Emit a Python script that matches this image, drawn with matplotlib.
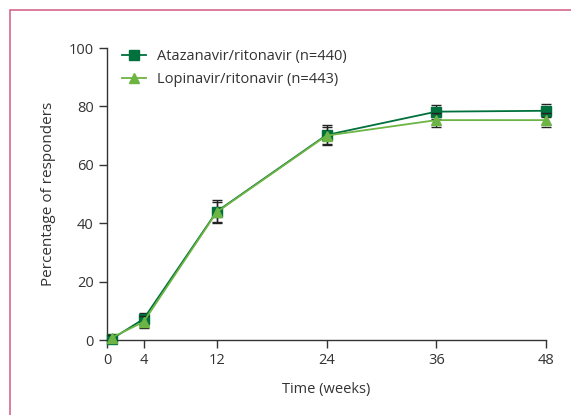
import matplotlib.pyplot as plt
from matplotlib.patches import Rectangle

# Data
weeks = [0.5, 4, 12, 24, 36, 48]
atv = [0.3, 7.2, 44.0, 70.2, 78.2, 78.5]
atv_err = [0.8, 2.2, 3.8, 3.3, 2.4, 2.2]
lpv = [0.8, 6.2, 43.8, 70.0, 75.3, 75.3]
lpv_err = [0.8, 2.0, 3.5, 3.0, 2.3, 2.3]
xticks = [0, 4, 12, 24, 36, 48]
yticks = [0, 20, 40, 60, 80, 100]

dark = '#00703c'
light = '#6cb443'

plt.rcParams['font.family'] = ['Open Sans', 'DejaVu Sans']

fig = plt.figure(figsize=(5.71, 4.15), dpi=100)
ax = fig.add_axes([107 / 571, 1 - 340 / 415, 439 / 571, 292 / 415])

# Pink frame around the panel
fig.patches.append(Rectangle((10 / 571, -0.1), 1.2, 1 - 10 / 415 + 0.1,
                             transform=fig.transFigure, fill=False,
                             edgecolor='#d4678a', linewidth=1.2))

ax.errorbar(weeks, atv, yerr=atv_err, color=dark, marker='s', markersize=7,
            linewidth=1.3, ecolor='#222222', elinewidth=1, capsize=3.5,
            label='Atazanavir/ritonavir (n=440)', zorder=3)
ax.errorbar(weeks, lpv, yerr=lpv_err, color=light, marker='^', markersize=7,
            linewidth=1.3, ecolor='#222222', elinewidth=1, capsize=3.5,
            label='Lopinavir/ritonavir (n=443)', zorder=4)

ax.set_xlim(0, 48)
ax.set_ylim(0, 100)
ax.set_xticks(xticks)
ax.set_yticks(yticks)
ax.spines['top'].set_visible(False)
ax.spines['right'].set_visible(False)
for s in ['left', 'bottom']:
    ax.spines[s].set_color('#333333')
    ax.spines[s].set_linewidth(1)
ax.tick_params(direction='out', length=6, width=1, colors='#333333',
               labelsize=10.5, labelcolor='#333333')
for line in ax.lines:
    line.set_clip_on(False)

ax.set_xlabel('Time (weeks)', fontsize=10.5, color='#333333', labelpad=10)
ax.set_ylabel('Percentage of responders', fontsize=11, color='#333333', labelpad=9)

handles, labels = ax.get_legend_handles_labels()
handles = [h[0] for h in handles]
ax.legend(handles, labels, loc='upper left', frameon=False, fontsize=10.5,
          bbox_to_anchor=(0.005, 1.04), handlelength=1.6, handletextpad=0.8,
          labelspacing=0.5, labelcolor='#333333')

plt.savefig('out.png', dpi=100)
